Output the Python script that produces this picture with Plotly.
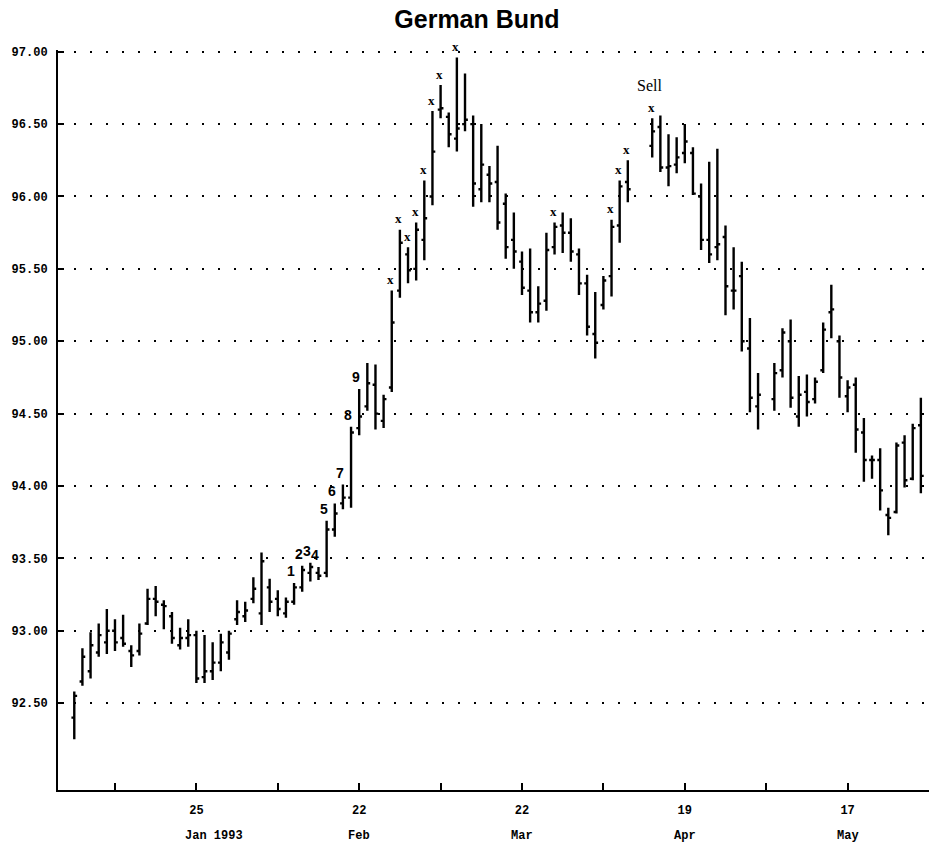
import plotly.graph_objects as go

# Daily sessions (weekends and exchange holidays absent)
dates = [
    "1993-01-04", "1993-01-05", "1993-01-06", "1993-01-07", "1993-01-08",
    "1993-01-11", "1993-01-12", "1993-01-13", "1993-01-14", "1993-01-15",
    "1993-01-18", "1993-01-19", "1993-01-20", "1993-01-21", "1993-01-22",
    "1993-01-25", "1993-01-26", "1993-01-27", "1993-01-28", "1993-01-29",
    "1993-02-01", "1993-02-02", "1993-02-03", "1993-02-04", "1993-02-05",
    "1993-02-08", "1993-02-09", "1993-02-10", "1993-02-11", "1993-02-12",
    "1993-02-15", "1993-02-16", "1993-02-17", "1993-02-18", "1993-02-19",
    "1993-02-22", "1993-02-23", "1993-02-24", "1993-02-25", "1993-02-26",
    "1993-03-01", "1993-03-02", "1993-03-03", "1993-03-04", "1993-03-05",
    "1993-03-08", "1993-03-09", "1993-03-10", "1993-03-11", "1993-03-12",
    "1993-03-15", "1993-03-16", "1993-03-17", "1993-03-18", "1993-03-19",
    "1993-03-22", "1993-03-23", "1993-03-24", "1993-03-25", "1993-03-26",
    "1993-03-29", "1993-03-30", "1993-03-31", "1993-04-01", "1993-04-02",
    "1993-04-05", "1993-04-06", "1993-04-07", "1993-04-08",
    "1993-04-13", "1993-04-14", "1993-04-15", "1993-04-16",
    "1993-04-19", "1993-04-20", "1993-04-21", "1993-04-22", "1993-04-23",
    "1993-04-26", "1993-04-27", "1993-04-28", "1993-04-29", "1993-04-30",
    "1993-05-04", "1993-05-05", "1993-05-06", "1993-05-07",
    "1993-05-10", "1993-05-11", "1993-05-12", "1993-05-13", "1993-05-14",
    "1993-05-17", "1993-05-18", "1993-05-19", "1993-05-20", "1993-05-21",
    "1993-05-24", "1993-05-25", "1993-05-26", "1993-05-27", "1993-05-28",
]

opens = [
    92.40, 92.65, 92.72, 92.85, 92.92, 93.00, 92.95, 92.86, 92.86, 93.05,
    93.22, 93.18, 93.10, 92.90, 92.95, 92.97, 92.68, 92.72, 92.78, 92.85,
    93.08, 93.10, 93.22, 93.12, 93.30, 93.22, 93.12, 93.20, 93.30, 93.40,
    93.40, 93.40, 93.70, 93.88, 93.92, 94.40, 94.55, 94.70, 94.45, 94.68,
    95.35, 95.60, 95.50, 95.70, 96.00, 96.60, 96.55, 96.40, 96.50, 96.50,
    96.05, 96.15, 96.10, 95.95, 95.70, 95.55, 95.35, 95.20, 95.28, 95.65,
    95.80, 95.75, 95.60, 95.40, 95.05, 95.25, 95.45, 95.80, 96.10,
    96.35, 96.48, 96.20, 96.22, 96.30, 96.30, 96.00, 95.70, 95.65,
    95.72, 95.35, 95.45, 94.95, 94.55,
    94.60, 94.80, 95.00, 94.48, 94.65, 94.60, 94.80, 95.20, 95.00,
    94.62, 94.70, 94.37, 94.18, 94.18, 93.80, 93.82, 94.30, 94.05, 94.42,
]

highs = [
    92.58, 92.88, 92.99, 93.05, 93.15, 93.08, 93.11, 92.90, 93.05, 93.29,
    93.31, 93.21, 93.13, 93.02, 93.08, 93.00, 92.97, 92.92, 92.98, 93.00,
    93.21, 93.20, 93.37, 93.54, 93.36, 93.28, 93.23, 93.33, 93.45, 93.47,
    93.44, 93.76, 93.88, 94.01, 94.41, 94.67, 94.85, 94.84, 94.63, 95.35,
    95.77, 95.65, 95.82, 96.11, 96.59, 96.77, 96.58, 96.96, 96.85, 96.56,
    96.50, 96.21, 96.35, 96.02, 95.89, 95.62, 95.64, 95.38, 95.75, 95.82,
    95.89, 95.85, 95.64, 95.46, 95.34, 95.45, 95.84, 96.11, 96.25,
    96.54, 96.56, 96.43, 96.41, 96.50, 96.34, 96.09, 96.24, 96.33,
    95.80, 95.65, 95.55, 95.16, 94.78,
    94.85, 95.09, 95.15, 94.76, 94.77, 94.75, 95.13, 95.39, 95.04,
    94.73, 94.75, 94.47, 94.21, 94.26, 93.85, 94.30, 94.35, 94.43, 94.61,
]

lows = [
    92.25, 92.62, 92.67, 92.82, 92.84, 92.86, 92.89, 92.75, 92.83, 93.04,
    93.10, 93.01, 92.91, 92.87, 92.89, 92.64, 92.64, 92.66, 92.72, 92.80,
    93.04, 93.06, 93.19, 93.04, 93.13, 93.10, 93.09, 93.18, 93.27, 93.34,
    93.35, 93.37, 93.65, 93.84, 93.85, 94.35, 94.52, 94.39, 94.40, 94.65,
    95.30, 95.40, 95.42, 95.56, 95.94, 96.54, 96.34, 96.31, 96.45, 95.93,
    95.96, 95.96, 95.77, 95.57, 95.50, 95.32, 95.13, 95.13, 95.21, 95.60,
    95.61, 95.55, 95.32, 95.04, 94.88, 95.22, 95.31, 95.68, 95.96,
    96.27, 96.17, 96.07, 96.16, 96.23, 96.01, 95.63, 95.54, 95.56,
    95.18, 95.22, 94.93, 94.51, 94.39,
    94.52, 94.75, 94.54, 94.41, 94.48, 94.57, 94.78, 95.02, 94.61,
    94.51, 94.23, 94.03, 94.05, 93.83, 93.66, 93.81, 93.99, 94.04, 93.95,
]

closes = [
    92.55, 92.82, 92.90, 92.97, 93.00, 92.92, 92.91, 92.83, 92.98, 93.22,
    93.20, 93.17, 92.95, 92.95, 92.97, 92.67, 92.72, 92.78, 92.92, 92.98,
    93.13, 93.14, 93.29, 93.48, 93.20, 93.15, 93.20, 93.30, 93.42, 93.44,
    93.38, 93.70, 93.81, 93.92, 94.37, 94.48, 94.71, 94.50, 94.60, 95.13,
    95.68, 95.49, 95.77, 95.85, 96.31, 96.61, 96.43, 96.47, 96.53, 96.09,
    96.22, 96.09, 95.82, 95.65, 95.62, 95.37, 95.20, 95.26, 95.63, 95.79,
    95.75, 95.62, 95.40, 95.10, 94.99, 95.42, 95.79, 96.07, 96.05,
    96.45, 96.20, 96.21, 96.27, 96.38, 96.02, 95.70, 95.60, 95.67,
    95.38, 95.35, 95.00, 94.61, 94.63,
    94.78, 95.06, 94.61, 94.63, 94.58, 94.72, 95.08, 95.22, 94.75,
    94.68, 94.39, 94.18, 94.18, 93.97, 93.78, 94.28, 94.04, 94.40, 94.07,
]

# Setup count above the highs
count_dates = ["1993-02-10", "1993-02-11", "1993-02-12", "1993-02-15", "1993-02-16",
               "1993-02-17", "1993-02-18", "1993-02-19", "1993-02-22"]
count_labels = ["1", "2", "3", "4", "5", "6", "7", "8", "9"]

# Countdown marks above the highs
mark_dates = ["1993-02-26", "1993-03-01", "1993-03-02", "1993-03-03", "1993-03-04",
              "1993-03-05", "1993-03-08", "1993-03-10", "1993-03-26", "1993-04-06",
              "1993-04-07", "1993-04-08", "1993-04-13"]
sell_date = "1993-04-13"

# Axis ticks: every second Monday
tick_dates = ["1993-01-11", "1993-01-25", "1993-02-08", "1993-02-22", "1993-03-08",
              "1993-03-22", "1993-04-05", "1993-04-19", "1993-05-03", "1993-05-17",
              "1993-05-31"]
tick_text = ["", "25", "", "22", "", "22", "", "19", "", "17", ""]
month_dates = ["1993-01-25", "1993-02-22", "1993-03-22", "1993-04-19", "1993-05-17"]
month_labels = ["Jan 1993", "Feb", "Mar", "Apr", "May"]
price_ticks = [92.5, 93.0, 93.5, 94.0, 94.5, 95.0, 95.5, 96.0, 96.5, 97.0]

high_of = dict(zip(dates, highs))

fig = go.Figure()
fig.add_trace(go.Ohlc(
    x=dates, open=opens, high=highs, low=lows, close=closes,
    increasing=dict(line=dict(color="black", width=2.4)),
    decreasing=dict(line=dict(color="black", width=2.4)),
    tickwidth=0.35, showlegend=False, hoverinfo="skip",
))

annotations = []
for d, t in zip(count_dates, count_labels):
    annotations.append(dict(
        x=d, y=high_of[d], xref="x", yref="y", text=t, showarrow=False,
        xshift=-3, yshift=12,
        font=dict(family="Liberation Sans", size=14, color="black", weight="bold"),
    ))
for d in mark_dates:
    annotations.append(dict(
        x=d, y=high_of[d], xref="x", yref="y", text="x", showarrow=False,
        xshift=-1, yshift=11,
        font=dict(family="Liberation Serif", size=13, color="black", weight="bold"),
    ))
annotations.append(dict(
    x=sell_date, y=high_of[sell_date], xref="x", yref="y", text="Sell",
    showarrow=False, xshift=-3, yshift=33,
    font=dict(family="Liberation Serif", size=16, color="black"),
))
for d, t in zip(month_dates, month_labels):
    annotations.append(dict(
        x=d, y=0, xref="x", yref="paper", text=t, showarrow=False,
        xanchor="left", yanchor="middle", xshift=-13, yshift=-46,
        font=dict(family="Liberation Mono", size=12, color="black", weight="bold"),
    ))

fig.update_layout(
    width=931, height=849,
    margin=dict(l=58, r=2, t=50, b=59),
    paper_bgcolor="white", plot_bgcolor="white",
    title=dict(
        text="<b>German Bund</b>", x=0.481, xanchor="center",
        y=1 - 19 / 849, yanchor="middle", xref="paper", yref="container",
        font=dict(family="Liberation Sans", size=25, color="black"),
    ),
    annotations=annotations,
    xaxis=dict(
        type="date",
        range=["1992-12-31", "1993-05-31"],
        rangebreaks=[dict(bounds=["sat", "mon"])],
        rangeslider=dict(visible=False),
        tickmode="array", tickvals=tick_dates, ticktext=tick_text,
        ticks="inside", ticklen=7, tickwidth=2, tickcolor="black",
        showline=True, linewidth=2, linecolor="black",
        showgrid=False, zeroline=False,
        ticklabelstandoff=8,
        tickfont=dict(family="Liberation Mono", size=12, color="black", weight="bold"),
    ),
    yaxis=dict(
        range=[91.9, 97.012],
        tickmode="array", tickvals=price_ticks, tickformat=".2f",
        ticks="inside", ticklen=6, tickwidth=2, tickcolor="black",
        showline=True, linewidth=2, linecolor="black",
        showgrid=True, gridcolor="black", gridwidth=2, griddash="2px,14px",
        zeroline=False,
        ticklabelstandoff=6,
        tickfont=dict(family="Liberation Mono", size=12, color="black", weight="bold"),
    ),
)

fig.write_html("out.html")
